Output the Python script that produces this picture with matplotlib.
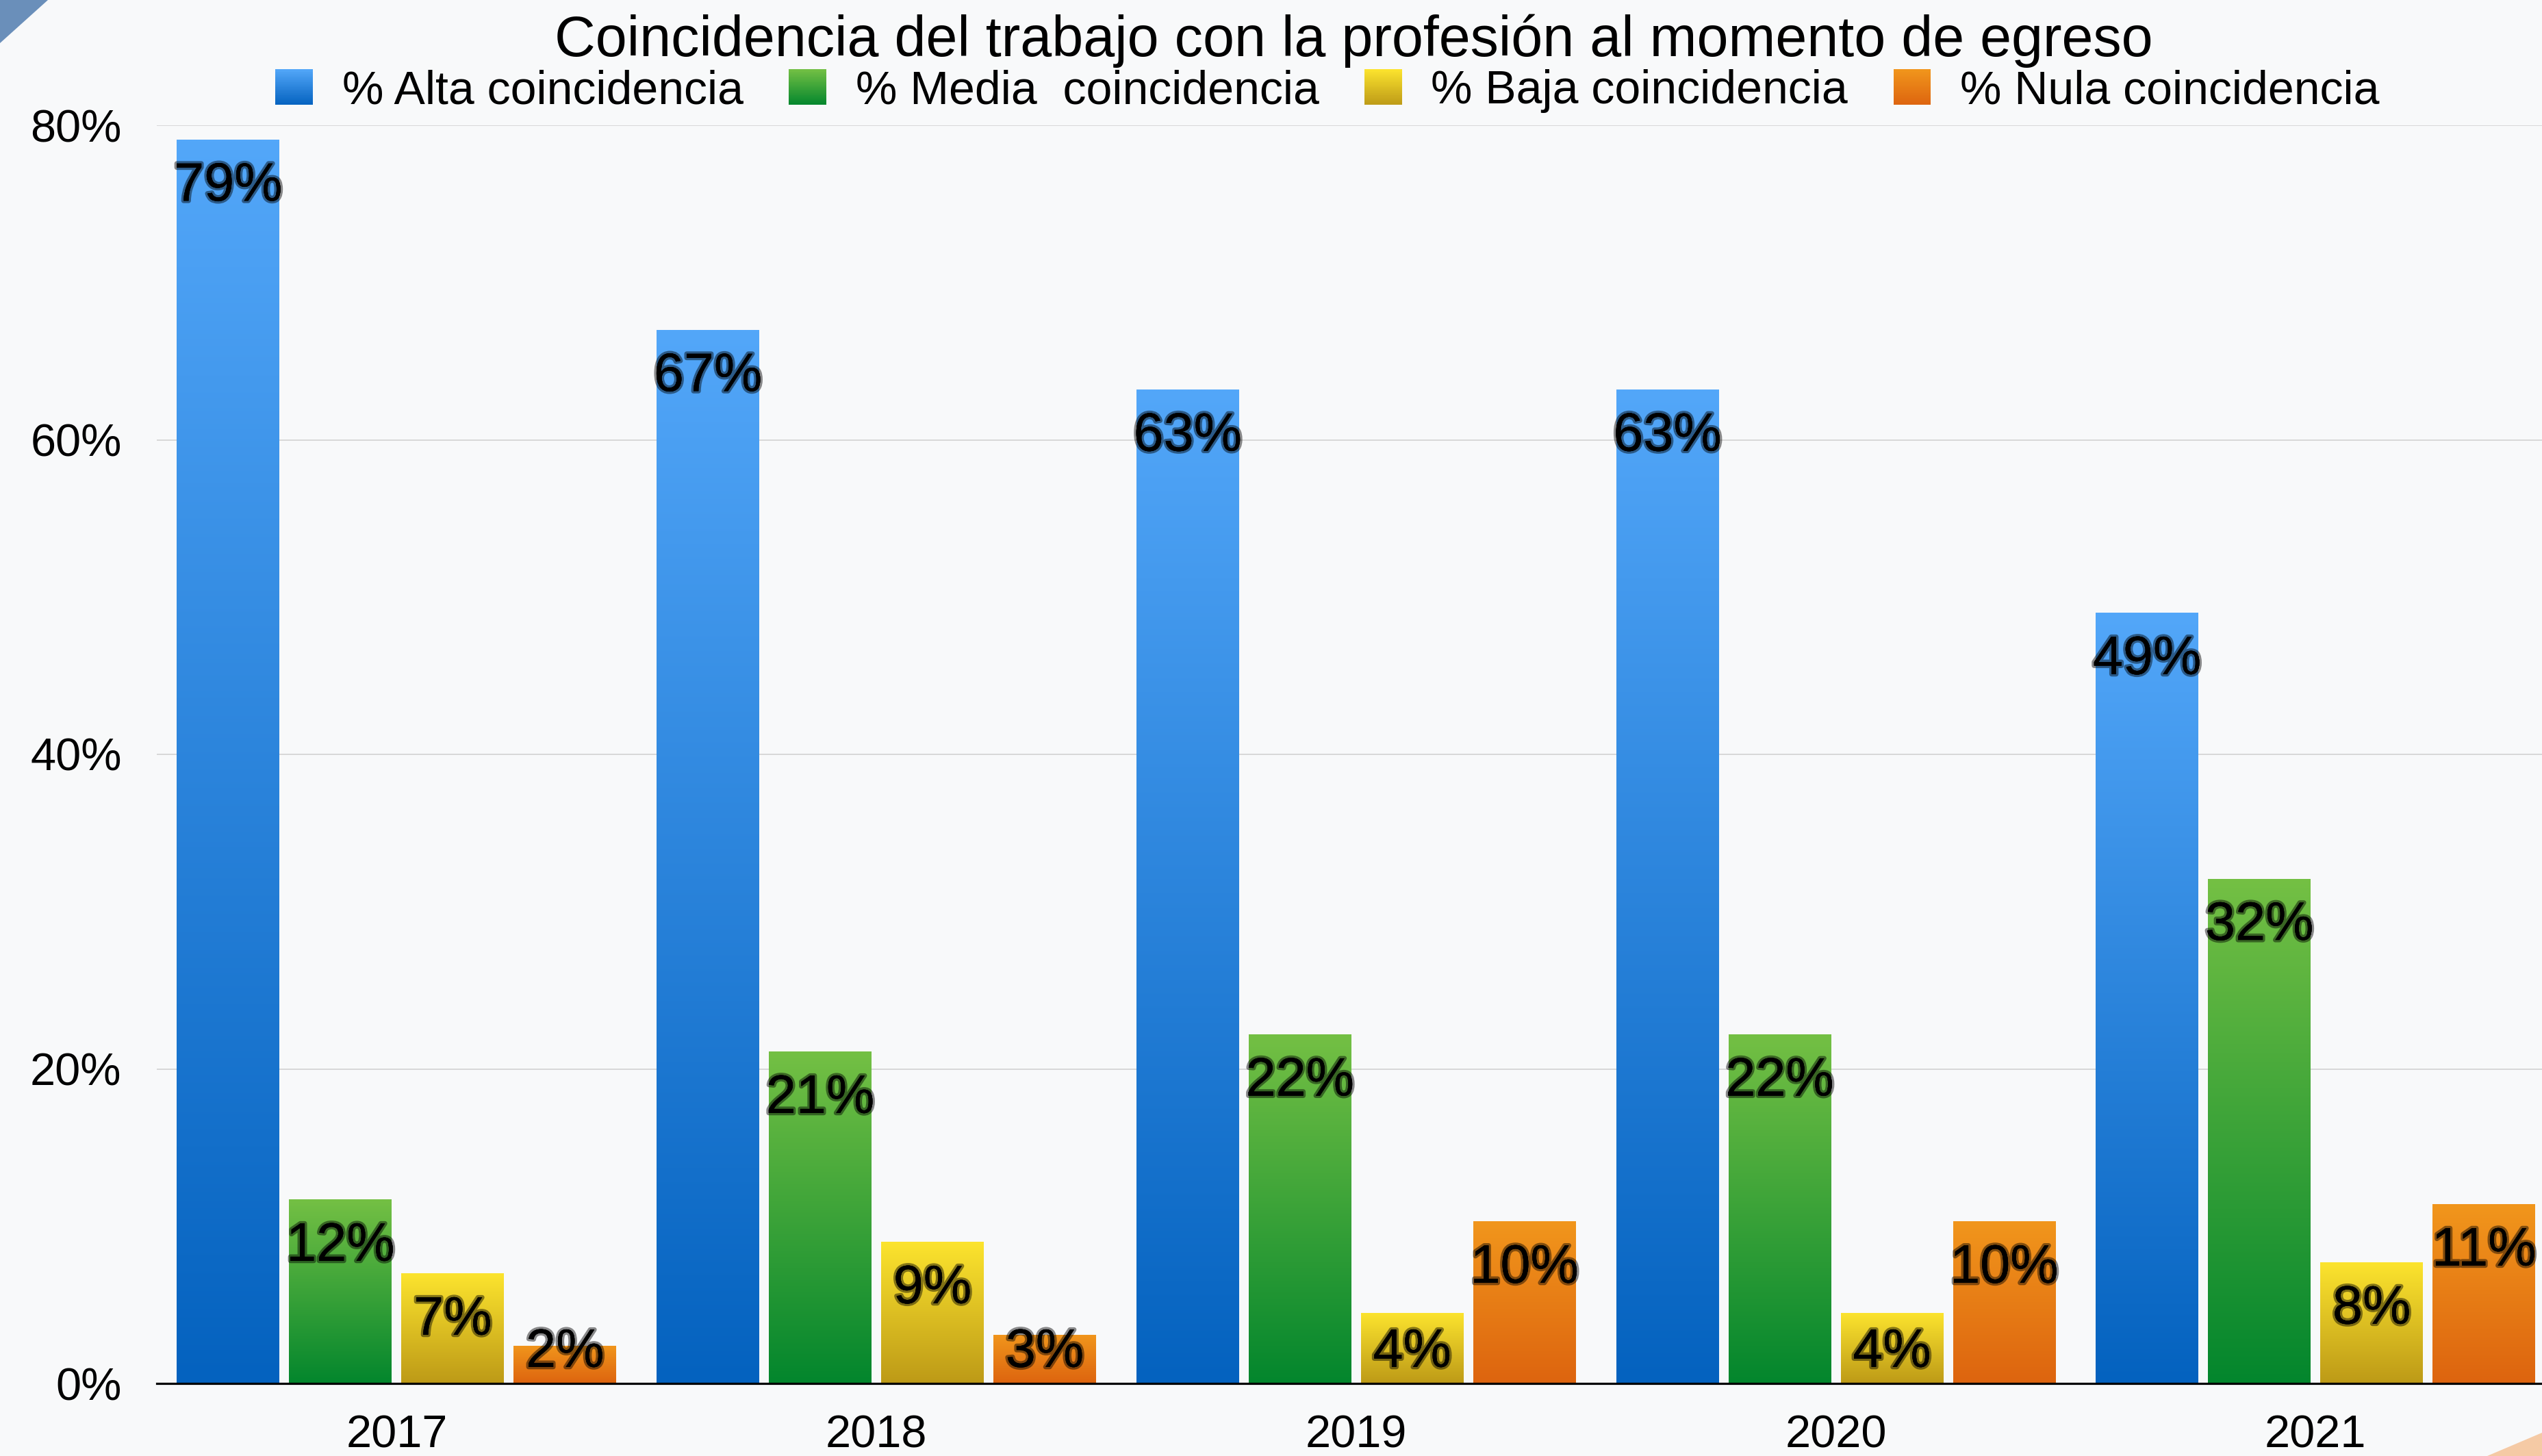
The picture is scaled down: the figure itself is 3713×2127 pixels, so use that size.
import numpy as np
import matplotlib
matplotlib.use("Agg")
import matplotlib.pyplot as plt
import matplotlib.patheffects as pe
from matplotlib.patches import Patch, Rectangle, Polygon
from matplotlib.legend_handler import HandlerBase
from matplotlib.colors import to_rgb

plt.rcParams['font.family'] = ['Liberation Sans', 'DejaVu Sans']

# ==========================
# Data
# ==========================
years = ["2017", "2018", "2019", "2020", "2021"]
series_names = ["% Alta coincidencia", "% Media  coincidencia",
                "% Baja coincidencia", "% Nula coincidencia"]
alta = [79.1, 67.0, 63.2, 63.2, 49.0]
media = [11.7, 21.1, 22.2, 22.2, 32.1]
baja = [7.0, 9.0, 4.5, 4.5, 7.7]
nula = [2.4, 3.1, 10.3, 10.3, 11.4]
alta_lbl = ["79%", "67%", "63%", "63%", "49%"]
media_lbl = ["12%", "21%", "22%", "22%", "32%"]
baja_lbl = ["7%", "9%", "4%", "4%", "8%"]
nula_lbl = ["2%", "3%", "10%", "10%", "11%"]
y_ticks = [0, 20, 40, 60, 80]
y_tick_labels = ["0%", "20%", "40%", "60%", "80%"]

values = [alta, media, baja, nula]
labels = [alta_lbl, media_lbl, baja_lbl, nula_lbl]

# gradient colours (top, bottom) per series
grads = [("#53a7f9", "#0462bf"),
         ("#74c044", "#03862d"),
         ("#fce42e", "#bd9a17"),
         ("#f1961c", "#dd640f")]


def grad_array(top, bottom, n=256):
    t = np.linspace(0, 1, n)[:, None]
    a = np.array(to_rgb(top))
    b = np.array(to_rgb(bottom))
    return (a * (1 - t) + b * t)[:, None, :]


class GradientHandler(HandlerBase):
    def __init__(self, top, bottom):
        super().__init__()
        self.top = np.array(to_rgb(top))
        self.bottom = np.array(to_rgb(bottom))

    def create_artists(self, legend, orig_handle, xdescent, ydescent,
                       width, height, fontsize, trans):
        arts = []
        n = 30
        for i in range(n):
            t = (i + 0.5) / n
            c = self.top * (1 - t) + self.bottom * t
            y0 = -ydescent + height * (1 - (i + 1) / n)
            arts.append(Rectangle((-xdescent, y0), width, height / n * 1.05,
                                  facecolor=c, edgecolor="none", transform=trans))
        return arts


bg = "#f8f9fa"
fig = plt.figure(figsize=(37.13, 21.27), dpi=100, facecolor=bg)

# corner decorations of the slide background
fig.patches.append(Polygon([(0, 1), (70 / 3713, 1), (0, 1 - 63 / 2127)],
                           closed=True, transform=fig.transFigure,
                           facecolor="#6a8fba", edgecolor="none"))
fig.patches.append(Polygon([(1, 1 - 2093 / 2127), (1, 0), (3633 / 3713, 0)],
                           closed=True, transform=fig.transFigure,
                           facecolor="#f5caa5", edgecolor="none"))

ax = fig.add_axes([229 / 3713, 1 - 2021 / 2127, 1 - 229 / 3713, (2021 - 183) / 2127])
ax.set_facecolor("none")

x = np.arange(len(years))
offsets = [-0.351, -0.117, 0.117, 0.351]
width = 0.214

for vals, lbls, off, (top, bot) in zip(values, labels, offsets, grads):
    bars = ax.bar(x + off, vals, width, color=bot, zorder=2, linewidth=0)
    for bar, v, lab in zip(bars, vals, lbls):
        x0 = bar.get_x()
        im = ax.imshow(grad_array(top, bot), extent=[x0, x0 + bar.get_width(), 0, v],
                       aspect="auto", zorder=2.1, interpolation="bilinear")
        im.set_clip_path(bar)
        ax.text(bar.get_x() + bar.get_width() / 2, max(v - 3.9, 1.05), lab,
                ha="center", va="baseline", fontsize=57, color="black", zorder=4,
                path_effects=[pe.withStroke(linewidth=5, foreground=(0, 0, 0, 0.45)),
                              pe.Normal()])

ax.set_xlim(-0.5, 4.472)
ax.set_ylim(0, 80)
ax.set_yticks(y_ticks)
ax.set_yticklabels(y_tick_labels)
ax.set_xticks(x)
ax.set_xticklabels(years)
ax.tick_params(axis="y", length=0, pad=37, labelsize=48)
ax.tick_params(axis="x", length=0, pad=33, labelsize=48)
ax.yaxis.grid(True, color="#d2d2d2", linewidth=1.2, zorder=0)
ax.set_axisbelow(True)
for s in ["top", "right", "left"]:
    ax.spines[s].set_visible(False)
ax.spines["bottom"].set_color("black")
ax.spines["bottom"].set_linewidth(2.3)
ax.spines["bottom"].set_zorder(5)

fig.text(1977 / 3713, 1 - 82 / 2127, "Coincidencia del trabajo con la profesión al momento de egreso",
         ha="center", va="baseline", fontsize=59.5, color="black")

handles = [Patch(label=n) for n in series_names]
hmap = {h: GradientHandler(t, b) for h, (t, b) in zip(handles, grads)}
fig.legend(handles=handles, labels=series_names, handler_map=hmap, ncol=4,
           loc="center", bbox_to_anchor=(1939 / 3713, 1 - 133 / 2127),
           bbox_transform=fig.transFigure, frameon=False, fontsize=49,
           handlelength=0.8, handleheight=0.8, handletextpad=0.63,
           columnspacing=0.98, borderpad=0, borderaxespad=0)

plt.savefig("out.png", dpi=100, facecolor=bg)
